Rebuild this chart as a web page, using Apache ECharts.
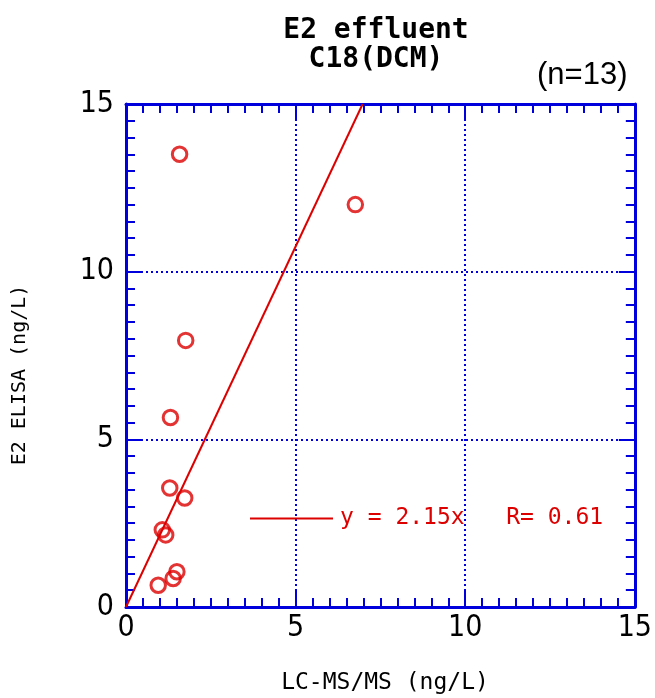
<!DOCTYPE html>
<html>
<head>
<meta charset="utf-8">
<script src="https://cdn.jsdelivr.net/npm/echarts@6/dist/echarts.min.js"></script>
<style>
html,body{margin:0;padding:0;background:#fff;}
#chart{width:655px;height:698px;}
</style>
</head>
<body>
<div id="chart"></div>
<script>
// LC-MS/MS (ng/L) values
var lcmsValues = [1.58, 6.76, 1.76, 1.31, 1.29, 1.73, 1.07, 1.17, 1.50, 1.39, 0.95];
// E2 ELISA (ng/L) values
var elisaValues = [13.5, 12.0, 7.95, 5.65, 3.55, 3.25, 2.3, 2.15, 1.05, 0.85, 0.65];
var slope = 2.15;
var rValue = 0.61;
var axisMin = 0, axisMax = 15, axisInterval = 5;
var tickLabels = ['0', '5', '10', '15'];

var points = lcmsValues.map(function (x, i) { return [x, elisaValues[i]]; });
var fitLine = [[0, 0], [axisMax / slope, axisMax]];
var legendName = 'y = ' + slope.toFixed(2) + 'x   R= ' + rValue.toFixed(2);

var BLUE = '#0000dd';
var RED = '#dd0000';
var NARROW = '"Liberation Sans Narrow", "Arial Narrow", "DejaVu Sans Condensed", sans-serif';

function axisBase(pos, showLabel, showSplit, margin) {
  return {
    type: 'value', position: pos, min: axisMin, max: axisMax, interval: axisInterval,
    axisLine: { show: true, onZero: false, lineStyle: { color: BLUE, width: 3 } },
    axisTick: { show: true, inside: true, length: 16, lineStyle: { color: BLUE, width: 2 } },
    minorTick: { show: true, splitNumber: 10, length: 9, lineStyle: { color: BLUE, width: 2 } },
    axisLabel: {
      show: showLabel, color: '#000', fontSize: 30, fontFamily: NARROW, margin: margin,
      formatter: function (v) { var i = Math.round(v / axisInterval); return tickLabels[i]; }
    },
    splitLine: { show: showSplit, lineStyle: { color: BLUE, type: [2, 3], width: 2 } },
    minorSplitLine: { show: false }
  };
}

var chart = echarts.init(document.getElementById('chart'), null, { renderer: 'canvas' });
chart.setOption({
  animation: false,
  backgroundColor: '#fff',
  grid: { left: 126, right: 15, top: 104, bottom: 91 },
  title: [
    { text: 'E2 effluent', left: 371, top: 12, textAlign: 'center',
      textStyle: { fontFamily: 'DejaVu Sans Mono', fontWeight: 'bold', fontSize: 28, color: '#000' } },
    { text: 'C18(DCM)', left: 371, top: 41, textAlign: 'center',
      textStyle: { fontFamily: 'DejaVu Sans Mono', fontWeight: 'bold', fontSize: 28, color: '#000' } },
    { text: '(n=13)', left: 532, top: 55,
      textStyle: { fontFamily: 'Liberation Sans', fontWeight: 'normal', fontSize: 31, color: '#000' } },
    { text: 'LC-MS/MS (ng/L)', left: 380, top: 667, textAlign: 'center',
      textStyle: { fontFamily: 'DejaVu Sans Mono', fontWeight: 'normal', fontSize: 23, color: '#000' } }
  ],
  legend: {
    show: true, left: 245, top: 502, itemWidth: 83, itemHeight: 2, itemGap: 0,
    icon: 'rect',
    data: [{ name: legendName, icon: 'rect' }],
    textStyle: { color: RED, fontSize: 23, fontFamily: 'DejaVu Sans Mono', padding: [0, 0, 0, 2] },
    selectedMode: false
  },
  graphic: [
    { type: 'text', x: 20, y: 375, rotation: Math.PI / 2,
      style: { text: 'E2 ELISA (ng/L)', fill: '#000', font: '20px "DejaVu Sans Mono"',
        textAlign: 'center', textVerticalAlign: 'middle' } }
  ],
  xAxis: [axisBase('bottom', true, true, 6), axisBase('top', false, false, 6)],
  yAxis: [axisBase('left', true, true, 12), axisBase('right', false, false, 12)],
  series: [
    { name: legendName, type: 'line', data: fitLine, showSymbol: false, symbol: 'none',
      lineStyle: { color: RED, width: 2 }, itemStyle: { color: RED }, z: 2 },
    { name: 'points', type: 'scatter', data: points, symbol: 'circle', symbolSize: 14.5,
      itemStyle: { color: 'rgba(0,0,0,0)', borderColor: RED, borderWidth: 3 }, z: 3 }
  ]
});
</script>
</body>
</html>
